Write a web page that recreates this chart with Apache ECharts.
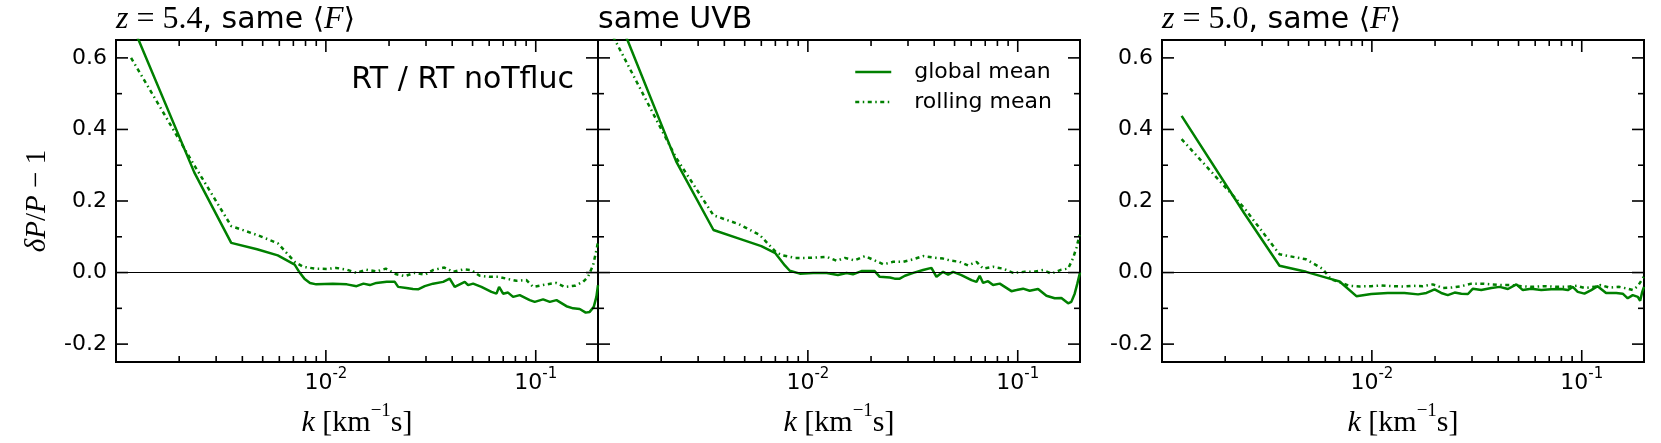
<!DOCTYPE html>
<html>
<head>
<meta charset="utf-8">
<title>dP/P - 1</title>
<script src="https://cdn.jsdelivr.net/npm/echarts@6/dist/echarts.min.js"></script>
<style>
    html, body { margin: 0; padding: 0; background: #fff; }
    #chart { width: 1661px; height: 443px; }
</style>
</head>
<body>
<div id="chart"></div>
<script>
// panel 1: z=5.4, same <F>
var k1Global = [0.00118, 0.00236, 0.00354, 0.0047, 0.0059, 0.0071, 0.0075, 0.0079, 0.0084, 0.009, 0.0108, 0.0126, 0.014, 0.0151, 0.0162, 0.0174, 0.0195, 0.0213, 0.0221, 0.0242, 0.026, 0.0275, 0.0296, 0.0324, 0.0362, 0.0389, 0.0411, 0.0459, 0.0476, 0.0503, 0.0551, 0.0615, 0.065, 0.0669, 0.0699, 0.0738, 0.078, 0.0839, 0.0936, 0.0989, 0.1084, 0.1167, 0.1256, 0.140, 0.1507, 0.162, 0.173, 0.1807, 0.189, 0.1945, 0.198];
var p1Global = [0.70, 0.28, 0.083, 0.065, 0.048, 0.022, 0.0, -0.017, -0.029, -0.033, -0.031, -0.033, -0.038, -0.031, -0.035, -0.029, -0.026, -0.026, -0.040, -0.043, -0.046, -0.047, -0.038, -0.031, -0.026, -0.017, -0.040, -0.026, -0.035, -0.031, -0.040, -0.054, -0.059, -0.040, -0.059, -0.056, -0.068, -0.063, -0.077, -0.082, -0.075, -0.082, -0.077, -0.094, -0.100, -0.102, -0.112, -0.110, -0.096, -0.068, -0.035];
var k1Rolling = [0.00118, 0.00236, 0.00354, 0.0047, 0.0059, 0.0071, 0.0078, 0.0089, 0.0101, 0.0112, 0.0126, 0.014, 0.0156, 0.0174, 0.0193, 0.0217, 0.0238, 0.0265, 0.0296, 0.0324, 0.0367, 0.0404, 0.0454, 0.0494, 0.0541, 0.0604, 0.0667, 0.0725, 0.0809, 0.0903, 0.0971, 0.1125, 0.1256, 0.1374, 0.1535, 0.168, 0.1774, 0.1875, 0.193, 0.198];
var p1Rolling = [0.60, 0.30, 0.13, 0.105, 0.082, 0.03, 0.016, 0.011, 0.010, 0.013, 0.008, -0.001, 0.008, 0.003, 0.011, -0.005, -0.010, -0.001, -0.006, 0.007, 0.014, 0.002, 0.009, 0.007, -0.009, -0.012, -0.012, -0.017, -0.023, -0.021, -0.040, -0.033, -0.029, -0.040, -0.037, -0.026, -0.012, 0.020, 0.053, 0.085];

// panel 2: same UVB
var k2Global = [0.00118, 0.00236, 0.00355, 0.0047, 0.006, 0.007, 0.00777, 0.0082, 0.00916, 0.0106, 0.0123, 0.0139, 0.0153, 0.0164, 0.018, 0.0208, 0.022, 0.0246, 0.0259, 0.0274, 0.029, 0.0318, 0.0354, 0.0388, 0.041, 0.0441, 0.0466, 0.0492, 0.0539, 0.0602, 0.0636, 0.0659, 0.0684, 0.0722, 0.0763, 0.0821, 0.0933, 0.0987, 0.106, 0.114, 0.125, 0.137, 0.150, 0.1614, 0.1738, 0.180, 0.1868, 0.1923, 0.198];
var p2Global = [0.75, 0.31, 0.119, 0.095, 0.074, 0.054, 0.020, 0.005, -0.003, -0.001, -0.001, -0.007, -0.001, -0.005, 0.004, 0.004, -0.012, -0.014, -0.017, -0.017, -0.009, -0.001, 0.007, 0.013, -0.012, 0.002, -0.006, 0.002, -0.007, -0.021, -0.026, -0.009, -0.029, -0.024, -0.035, -0.031, -0.052, -0.049, -0.045, -0.051, -0.046, -0.065, -0.072, -0.071, -0.086, -0.082, -0.059, -0.031, 0.0];
var k2Rolling = [0.00118, 0.00236, 0.00355, 0.0047, 0.0059, 0.0071, 0.00762, 0.00867, 0.00968, 0.0108, 0.0123, 0.0137, 0.015, 0.0167, 0.0187, 0.0208, 0.0229, 0.0255, 0.0284, 0.0318, 0.0354, 0.0395, 0.0441, 0.0483, 0.0529, 0.058, 0.0636, 0.0684, 0.0763, 0.0851, 0.0951, 0.108, 0.118, 0.132, 0.1446, 0.1614, 0.1738, 0.1832, 0.1905, 0.198];
var p2Rolling = [0.66, 0.32, 0.16, 0.135, 0.105, 0.055, 0.048, 0.041, 0.041, 0.042, 0.044, 0.033, 0.041, 0.034, 0.046, 0.034, 0.023, 0.030, 0.030, 0.037, 0.046, 0.042, 0.039, 0.033, 0.030, 0.020, 0.030, 0.011, 0.016, 0.011, -0.001, 0.002, 0.002, 0.007, -0.003, 0.008, 0.011, 0.039, 0.070, 0.11];

// panel 3: z=5.0, same <F>
var k3Global = [0.00124, 0.00247, 0.00363, 0.00486, 0.00629, 0.00702, 0.00844, 0.00993, 0.0119, 0.0143, 0.0166, 0.0182, 0.0199, 0.0214, 0.023, 0.0248, 0.0267, 0.0287, 0.0303, 0.0332, 0.0371, 0.0406, 0.0445, 0.0488, 0.0524, 0.0574, 0.0641, 0.0715, 0.0798, 0.0858, 0.0906, 0.0957, 0.103, 0.111, 0.119, 0.1306, 0.146, 0.1568, 0.1656, 0.175, 0.185, 0.1898, 0.1942, 0.198];
var p3Global = [0.438, 0.165, 0.019, 0.002, -0.017, -0.025, -0.066, -0.060, -0.057, -0.057, -0.061, -0.057, -0.047, -0.057, -0.063, -0.056, -0.059, -0.060, -0.045, -0.049, -0.043, -0.040, -0.046, -0.033, -0.049, -0.045, -0.049, -0.047, -0.046, -0.049, -0.040, -0.054, -0.059, -0.049, -0.038, -0.057, -0.057, -0.059, -0.072, -0.063, -0.068, -0.079, -0.054, -0.04];
var k3Rolling = [0.00124, 0.00247, 0.00363, 0.00486, 0.0058, 0.0064, 0.00783, 0.00874, 0.00993, 0.0111, 0.0124, 0.0141, 0.0157, 0.0175, 0.0195, 0.0218, 0.0239, 0.0267, 0.0298, 0.0338, 0.0371, 0.0412, 0.0461, 0.0515, 0.0574, 0.0666, 0.0755, 0.0846, 0.0945, 0.103, 0.115, 0.1234, 0.1355, 0.151, 0.1656, 0.175, 0.185, 0.193, 0.198];
var p3Rolling = [0.373, 0.18, 0.051, 0.037, 0.011, -0.019, -0.037, -0.039, -0.038, -0.036, -0.038, -0.039, -0.037, -0.038, -0.033, -0.043, -0.042, -0.038, -0.031, -0.031, -0.033, -0.035, -0.035, -0.038, -0.040, -0.038, -0.040, -0.040, -0.037, -0.043, -0.040, -0.035, -0.042, -0.040, -0.045, -0.049, -0.038, -0.021, -0.01];

// axis ticks
var xMajorTicks = [0.01, 0.1];
var xMinorTicks = [0.002, 0.003, 0.004, 0.005, 0.006, 0.007, 0.008, 0.009, 0.02, 0.03, 0.04, 0.05, 0.06, 0.07, 0.08, 0.09];
var yMajorTicks = [-0.2, 0, 0.2, 0.4, 0.6];
var yMinorTicks = [-0.1, 0.1, 0.3, 0.5];

var GREEN = '#008000';
var SANS = '"DejaVu Sans", sans-serif';
var SERIF = '"Liberation Serif", "DejaVu Serif", serif';

var panels = [
    { left: 116, gk: k1Global, gv: p1Global, rk: k1Rolling, rv: p1Rolling, yLabels: true,
      title: '{i|z}{r| = 5.4}, same {b|\u27e8}{i|F}{b|\u27e9}' },
    { left: 598, gk: k2Global, gv: p2Global, rk: k2Rolling, rv: p2Rolling, yLabels: false,
      title: 'same UVB' },
    { left: 1162, gk: k3Global, gv: p3Global, rk: k3Rolling, rv: p3Rolling, yLabels: true,
      title: '{i|z}{r| = 5.0}, same {b|\u27e8}{i|F}{b|\u27e9}' }
];

function zip(k, v) {
    return k.map(function(x, i) { return [x, v[i]]; });
}

var tickData = [];
xMajorTicks.forEach(function(v) { tickData.push([v, 0, 0]); });
xMinorTicks.forEach(function(v) { tickData.push([v, 0, 1]); });
yMajorTicks.forEach(function(v) { tickData.push([0.01, v, 2]); });
yMinorTicks.forEach(function(v) { tickData.push([0.01, v, 3]); });

// inward ticks on all four sides, placed through the axes' own scales
function renderTick(params, api) {
    var cs = params.coordSys;
    var kind = api.value(2);
    var p = api.coord([api.value(0), api.value(1)]);
    var len = (kind === 0 || kind === 2) ? 12 : 6;
    var st = { stroke: '#000', lineWidth: 1.6 };
    if (kind < 2) {
        return { type: 'group', children: [
            { type: 'line', shape: { x1: p[0], y1: cs.y + cs.height, x2: p[0], y2: cs.y + cs.height - len }, style: st },
            { type: 'line', shape: { x1: p[0], y1: cs.y, x2: p[0], y2: cs.y + len }, style: st }
        ] };
    }
    return { type: 'group', children: [
        { type: 'line', shape: { x1: cs.x, y1: p[1], x2: cs.x + len, y2: p[1] }, style: st },
        { type: 'line', shape: { x1: cs.x + cs.width, y1: p[1], x2: cs.x + cs.width - len, y2: p[1] }, style: st }
    ] };
}

function xLabel(v) {
    var e = Math.log10(v), r = Math.round(e);
    if (Math.abs(e - r) > 1e-6 || r <= -3) return '';
    return '{b|10}{s|' + r + '}';
}

function yLabel(v) {
    var t = Math.round(v * 100) / 100;
    if (Math.abs(t * 5 - Math.round(t * 5)) > 1e-6) return '';
    return t.toFixed(1);
}

var mathRich = {
    i: { fontFamily: SERIF, fontStyle: 'italic', fontSize: 30, verticalAlign: 'bottom', lineHeight: 36 },
    r: { fontFamily: SERIF, fontSize: 30, verticalAlign: 'bottom', lineHeight: 36 },
    s: { fontFamily: SERIF, fontSize: 19, verticalAlign: 'top', lineHeight: 36 }
};

var grids = [], xAxes = [], yAxes = [], series = [], graphics = [];

panels.forEach(function(p, i) {
    grids.push({ left: p.left, top: 40, width: 482, height: 323, show: true,
        borderColor: '#000', borderWidth: 2, backgroundColor: 'transparent', containLabel: false });
    xAxes.push({
        type: 'log', logBase: 10, gridIndex: i, min: 0.001, max: 0.198,
        axisLine: { show: false }, axisTick: { show: false }, splitLine: { show: false },
        axisLabel: {
            margin: 5, color: '#000', formatter: xLabel,
            rich: {
                b: { fontFamily: SANS, fontSize: 22, verticalAlign: 'bottom', lineHeight: 27 },
                s: { fontFamily: SANS, fontSize: 15, verticalAlign: 'top', lineHeight: 27 }
            }
        },
        name: '{i|k} {r|[km}{s|\u22121}{r|s]}', nameLocation: 'middle', nameGap: 40,
        nameTextStyle: { color: '#000', fontSize: 30, fontFamily: SERIF, rich: mathRich }
    });
    yAxes.push({
        type: 'value', gridIndex: i, min: -0.25, max: 0.65, interval: 0.05,
        axisLine: { show: false }, axisTick: { show: false }, splitLine: { show: false },
        axisLabel: { show: p.yLabels, margin: 9, color: '#000', fontFamily: SANS, fontSize: 22, formatter: yLabel }
    });
    series.push({
        type: 'line', name: 'global mean', xAxisIndex: i, yAxisIndex: i, data: zip(p.gk, p.gv),
        symbol: 'none', showSymbol: false, clip: true, z: 3,
        lineStyle: { color: GREEN, width: 2.5, type: 'solid' }, itemStyle: { color: GREEN },
        markLine: { silent: true, symbol: 'none', label: { show: false },
            lineStyle: { color: '#000', width: 1, type: 'solid' }, data: [{ yAxis: 0 }] }
    });
    series.push({
        type: 'line', name: 'rolling mean', xAxisIndex: i, yAxisIndex: i, data: zip(p.rk, p.rv),
        symbol: 'none', showSymbol: false, clip: true, z: 3,
        lineStyle: { color: GREEN, width: 2.5, type: [4, 3.5, 1.5, 3.5] }, itemStyle: { color: GREEN }
    });
    series.push({
        type: 'custom', xAxisIndex: i, yAxisIndex: i, data: tickData, renderItem: renderTick,
        silent: true, clip: false, z: 5, encode: { x: 0, y: 1 }
    });
    graphics.push({
        type: 'text', x: p.left, y: 20,
        style: { text: p.title, font: '30px ' + SANS, fill: '#000', align: 'left', verticalAlign: 'middle',
            rich: {
                i: { fontFamily: SERIF, fontStyle: 'italic', fontSize: 32 },
                r: { fontFamily: SERIF, fontSize: 32 },
                b: { fontFamily: '"DejaVu Serif", serif', fontSize: 29 }
            } }
    });
});

graphics.push({
    type: 'text', x: 574, y: 80,
    style: { text: 'RT / RT noTfluc', font: '30px ' + SANS, fill: '#000', align: 'right', verticalAlign: 'middle' }
});
graphics.push({
    type: 'text', x: 37, y: 201, rotation: Math.PI / 2,
    style: { text: '{i|\u03b4P}{r|/}{i|P}{r| \u2212 1}', font: '29px ' + SERIF, fill: '#000',
        align: 'center', verticalAlign: 'middle',
        rich: { i: { fontFamily: SERIF, fontStyle: 'italic', fontSize: 29 }, r: { fontFamily: SERIF, fontSize: 29 } } }
});

var chart = echarts.init(document.getElementById('chart'), null, { renderer: 'canvas' });
chart.setOption({
    animation: false,
    backgroundColor: '#fff',
    textStyle: { fontFamily: SANS },
    grid: grids,
    xAxis: xAxes,
    yAxis: yAxes,
    legend: {
        orient: 'vertical', left: 849, top: 56, itemWidth: 36, itemHeight: 14, itemGap: 8,
        selectedMode: false,
        itemStyle: { opacity: 0 },
        lineStyle: { width: 2.5 },
        formatter: function(name) { return '{g| }' + name; },
        textStyle: { fontSize: 22, fontFamily: SANS, color: '#000', rich: { g: { width: 18 } } },
        data: ['global mean', 'rolling mean']
    },
    series: series,
    graphic: graphics
});
</script>
</body>
</html>
